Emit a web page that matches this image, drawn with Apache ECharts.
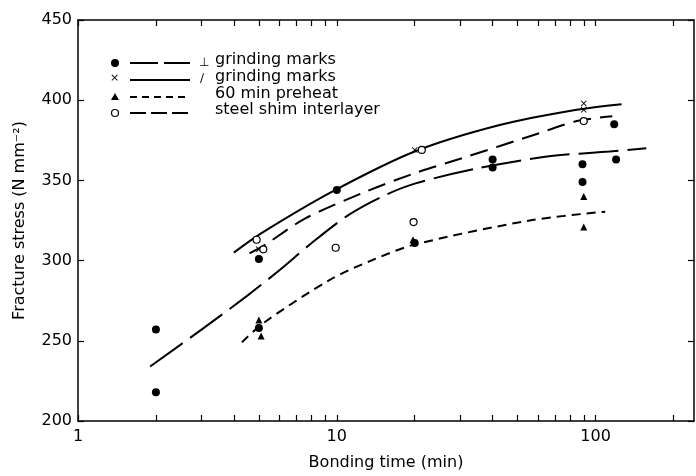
<!DOCTYPE html>
<html>
<head>
<meta charset="utf-8">
<script src="https://cdn.jsdelivr.net/npm/echarts@6/dist/echarts.min.js"></script>
<style>
    html, body { margin: 0; padding: 0; background: #fff; }
    #chart { width: 696px; height: 476px; }
</style>
</head>
<body>
<div id="chart"></div>
<script>
// measured points: [bonding time (min), fracture stress (N mm-2)]
var perpDots = [[2, 257], [2, 218], [5, 301], [5, 258], [10, 344], [20, 311], [40, 363], [40, 358], [89, 360], [89, 349], [118, 385], [120, 363]];
var slantCross = [[5, 307], [20, 369], [90, 398], [90, 394]];
var preheatTri = [[5, 263], [5.1, 253], [19.7, 313], [90, 340], [90, 321]];
var shimRing = [[4.9, 313], [5.2, 307], [9.9, 308], [19.8, 324], [21.3, 369], [90, 387]];

// hand drawn trend curves
var perpCurve = [[1.9, 234], [3, 257], [4.5, 278], [6, 294], [8, 311], [11, 328], [15, 340], [20, 348], [35, 357.5], [66, 365], [113, 368], [157, 370]];
var slantCurve = [[4, 305], [5.1, 317], [9.6, 343], [20, 368], [42.6, 384.5], [84.5, 394], [126, 397.5]];
var preheatCurve = [[4.3, 249], [5.2, 261], [9.4, 288], [13.8, 300.5], [20, 310], [55.6, 325], [109, 330.5]];
var shimCurve = [[4.6, 304.5], [5.3, 310], [7.5, 326], [12.5, 342], [20, 354.5], [30, 363.5], [60.8, 379.5], [84.5, 387], [116, 390]];

var xTicks = [1, 2, 3, 4, 5, 6, 7, 8, 9, 10, 20, 30, 40, 50, 60, 70, 80, 90, 100, 200];
var xLabels = [1, 10, 100];
var legendNames = ['grinding marks', 'grinding marks', '60 min preheat', 'steel shim interlayer'];

var FONT = 'DejaVu Sans';
var INK = '#000';
var crossPath = 'path://M1,0L5,4L9,0L10,1L6,5L10,9L9,10L5,6L1,10L0,9L4,5L0,1Z';

var myChart = echarts.init(document.getElementById('chart'), null, {renderer: 'canvas'});

function curve(data, dash) {
    return {
        type: 'line',
        data: data,
        smooth: 0.3,
        symbol: 'none',
        silent: true,
        z: 2,
        lineStyle: {color: INK, width: 2, type: dash}
    };
}

function logAxis(pos, showLabels) {
    return {
        type: 'log',
        logBase: 10,
        position: pos,
        min: 1,
        max: 240,
        axisLine: {show: true, onZero: false, lineStyle: {color: INK, width: 1.5}},
        axisTick: {show: true, inside: true, length: 6, customValues: xTicks, lineStyle: {color: INK, width: 1.2}},
        axisLabel: {show: showLabels, customValues: xLabels, color: INK, fontSize: 16, fontFamily: FONT, margin: 8},
        splitLine: {show: false},
        minorTick: {show: false},
        name: showLabels ? 'Bonding time (min)' : '',
        nameLocation: 'middle',
        nameGap: 34,
        nameTextStyle: {color: INK, fontSize: 16, fontFamily: FONT}
    };
}

function valAxis(pos, showLabels) {
    return {
        type: 'value',
        position: pos,
        min: 200,
        max: 450,
        interval: 50,
        axisLine: {show: true, onZero: false, lineStyle: {color: INK, width: 1.5}},
        axisTick: {show: true, inside: true, length: 6, lineStyle: {color: INK, width: 1.2}},
        axisLabel: {show: showLabels, color: INK, fontSize: 16, fontFamily: FONT, margin: 6},
        splitLine: {show: false},
        name: showLabels ? 'Fracture stress (N mm\u207b\u00b2)' : '',
        nameLocation: 'middle',
        nameGap: 50,
        nameTextStyle: {color: INK, fontSize: 16, fontFamily: FONT}
    };
}

// legend drawn by hand: symbol, line sample, small mark, text
var rowY = [63, 80, 97, 113];
var legendGraphic = [];
var dashes = [[28, 6], null, [7, 5], [16, 5]];
rowY.forEach(function (y, i) {
    legendGraphic.push({
        type: 'line', shape: {x1: 130, y1: y, x2: 190, y2: y},
        style: {stroke: INK, lineWidth: 2, lineDash: dashes[i]}
    });
    legendGraphic.push({
        type: 'text', left: 215, top: y - 11,
        style: {text: legendNames[i], fill: INK, font: '16px "' + FONT + '"'}
    });
});
legendGraphic.push({type: 'circle', shape: {cx: 115, cy: rowY[0], r: 4}, style: {fill: INK}});
legendGraphic.push({type: 'text', left: 110, top: rowY[1] - 7, style: {text: '\u00d7', fill: INK, font: '11px "' + FONT + '"'}});
legendGraphic.push({type: 'polygon', shape: {points: [[115, rowY[2] - 4], [119, rowY[2] + 3], [111, rowY[2] + 3]]}, style: {fill: INK}});
legendGraphic.push({type: 'circle', shape: {cx: 115, cy: rowY[3], r: 3.5}, style: {fill: '#fff', stroke: INK, lineWidth: 1.2}});
legendGraphic.push({type: 'text', left: 199, top: rowY[0] - 6, style: {text: '\u22a5', fill: INK, font: '12px "' + FONT + '"'}});
legendGraphic.push({type: 'text', left: 200, top: rowY[1] - 7, style: {text: '\u2215', fill: INK, font: '12px "' + FONT + '"'}});

var option = {
    backgroundColor: '#fff',
    animation: false,
    grid: {left: 78, right: 2, top: 20, bottom: 53, containLabel: false},
    xAxis: [logAxis('bottom', true), logAxis('top', false)],
    yAxis: [valAxis('left', true), valAxis('right', false)],
    graphic: legendGraphic,
    series: [
        curve(perpCurve, [40, 9]),
        curve(slantCurve, 'solid'),
        curve(preheatCurve, [9, 6]),
        curve(shimCurve, [18, 9]),
        {
            type: 'scatter', data: perpDots, symbol: 'circle', symbolSize: 8, z: 3,
            itemStyle: {color: INK, opacity: 1}
        },
        {
            type: 'scatter', data: slantCross, symbol: crossPath, symbolSize: 6, z: 3,
            itemStyle: {color: INK, opacity: 1}
        },
        {
            type: 'scatter', data: preheatTri, symbol: 'triangle', symbolSize: 7, z: 3,
            itemStyle: {color: INK, opacity: 1}
        },
        {
            type: 'scatter', data: shimRing, symbol: 'circle', symbolSize: 7, z: 4,
            itemStyle: {color: '#fff', borderColor: INK, borderWidth: 1.2, opacity: 1}
        }
    ]
};
myChart.setOption(option);
</script>
</body>
</html>
